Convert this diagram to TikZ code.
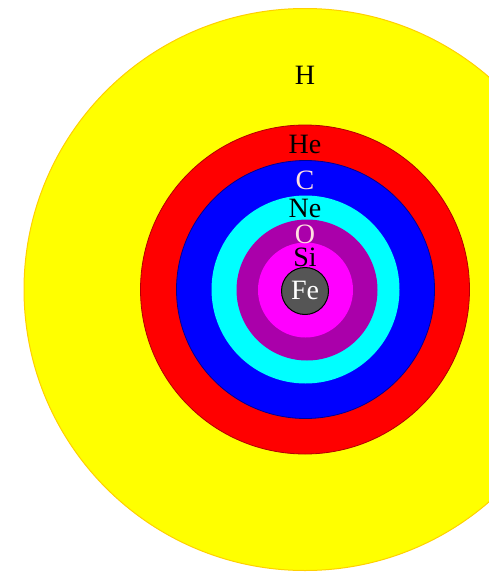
\documentclass[tikz,border=0pt]{standalone}
\usepackage{fontspec}
\setmainfont{Liberation Serif}
\definecolor{yfill}{HTML}{FFFF00}
\definecolor{yline}{HTML}{FFD000}
\definecolor{rfill}{HTML}{FF0000}
\definecolor{rline}{HTML}{B00000}
\definecolor{bfill}{HTML}{0000FF}
\definecolor{bline}{HTML}{000090}
\definecolor{cfill}{HTML}{00FFFF}
\definecolor{pfill}{HTML}{AA00AA}
\definecolor{mfill}{HTML}{FF00FF}
\definecolor{gfill}{HTML}{555555}
\definecolor{pinktext}{HTML}{FFE0E0}
\begin{document}
\begin{tikzpicture}[x=1pt,y=-1pt,
  shell/.style={circle,inner sep=0pt,minimum size=#1},
  lbl/.style={anchor=base,inner sep=0pt,font=\fontsize{28}{28}\selectfont}]
\useasboundingbox (0,0) rectangle (489,573);
\clip (0,0) rectangle (489,573);
\node[shell=562pt,fill=yfill,draw=yline,line width=1pt] (H) at (305,289.5) {};
\node[shell=329pt,fill=rfill,draw=rline,line width=0.8pt] (He) at (305,289.5) {};
\node[shell=258pt,fill=bfill,draw=bline,line width=0.8pt] (C) at (305.5,289.5) {};
\node[shell=188pt,fill=cfill] (Ne) at (305.5,289.5) {};
\node[shell=141pt,fill=pfill] (O) at (307,290) {};
\node[shell=95pt,fill=mfill] (Si) at (305.5,290) {};
\node[shell=47pt,fill=gfill,draw=black,line width=1pt] (Fe) at (305,291) {};
\node[lbl,text=black] (tH) at (305,84) {H};
\node[lbl,text=black] (tHe) at (305,153) {He};
\node[lbl,text=pinktext] (tC) at (305,189) {C};
\node[lbl,text=black] (tNe) at (305,217) {Ne};
\node[lbl,text=pinktext] (tO) at (305,243) {O};
\node[lbl,text=black] (tSi) at (305,266) {Si};
\node[lbl,text=white] (tFe) at (305,299) {Fe};
\end{tikzpicture}
\end{document}
